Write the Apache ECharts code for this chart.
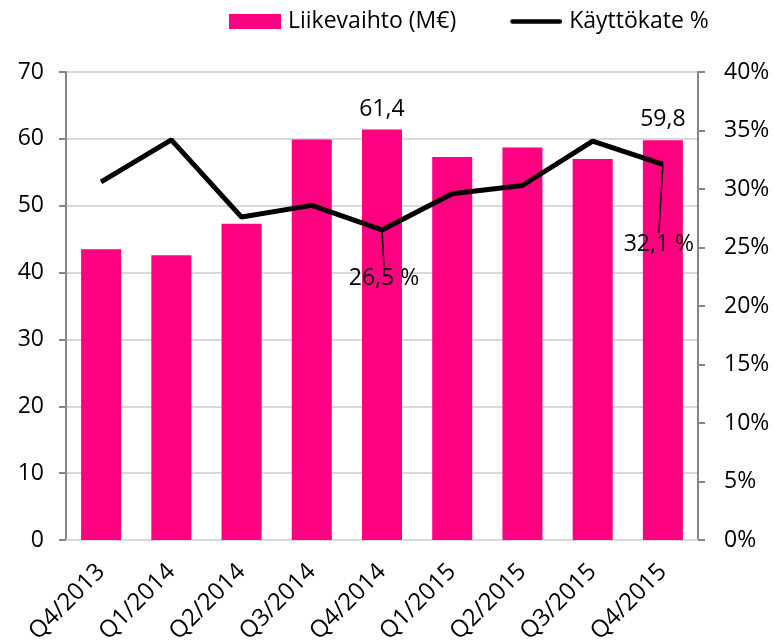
<!DOCTYPE html>
<html>
<head>
<meta charset="utf-8">
<script src="https://cdn.jsdelivr.net/npm/echarts@6/dist/echarts.min.js"></script>
<style>
  html, body { margin: 0; padding: 0; background: #fff; }
  #chart { width: 775px; height: 643px; }
</style>
</head>
<body>
<div id="chart"></div>
<script>
// kvartaalit ja arvot
var categories = ['Q4/2013', 'Q1/2014', 'Q2/2014', 'Q3/2014', 'Q4/2014', 'Q1/2015', 'Q2/2015', 'Q3/2015', 'Q4/2015'];
var liikevaihto = [43.5, 42.6, 47.3, 59.9, 61.4, 57.3, 58.7, 57.0, 59.8];
var kayttokate = [0.306, 0.342, 0.276, 0.286, 0.265, 0.296, 0.303, 0.341, 0.321];
var leftTicks = [0, 70, 10];
var rightTicks = [0, 0.4, 0.05];

var FONT = '"Open Sans", Lato, sans-serif';

var chart = echarts.init(document.getElementById('chart'));

// datalabelit vain osalle pylväistä / pisteistä
var barData = liikevaihto.map(function (v, i) {
  if (i === 4 || i === 8) {
    return { value: v, label: { show: true } };
  }
  return v;
});
var lineData = kayttokate.map(function (v, i) {
  if (i === 4 || i === 8) {
    return { value: v, label: { show: true }, labelLine: { show: true } };
  }
  return v;
});

var option = {
  animation: false,
  textStyle: { fontFamily: FONT },
  legend: {
    top: 5,
    left: 224,
    itemWidth: 52,
    itemHeight: 15,
    itemGap: 54,
    textStyle: { fontSize: 23, color: '#000', fontFamily: FONT, padding: [0, 0, 0, 2] },
    data: [
      { name: 'Liikevaihto (M€)', icon: 'rect' },
      { name: 'Käyttökate %', icon: 'path://M2.5,0 L52.5,0 A2.5,2.5 0 0 1 52.5,5 L2.5,5 A2.5,2.5 0 0 1 2.5,0 Z' }
    ]
  },
  grid: { left: 66, right: 77, top: 72, bottom: 103, containLabel: false, outerBoundsMode: 'none' },
  xAxis: {
    type: 'category',
    data: categories,
    axisLine: { lineStyle: { color: '#D9D9D9', width: 2 } },
    axisTick: { show: false },
    axisLabel: { rotate: 45, fontSize: 24, color: '#000', margin: 28, fontFamily: FONT }
  },
  yAxis: [
    {
      type: 'value',
      min: leftTicks[0], max: leftTicks[1], interval: leftTicks[2],
      axisLine: { show: true, lineStyle: { color: '#868686', width: 2 } },
      axisTick: { show: true, length: 7, lineStyle: { color: '#868686', width: 2 } },
      splitLine: { lineStyle: { color: '#D9D9D9', width: 2 } },
      axisLabel: { fontSize: 23, color: '#000', margin: 22, fontFamily: FONT }
    },
    {
      type: 'value',
      min: rightTicks[0], max: rightTicks[1], interval: rightTicks[2],
      axisLine: { show: true, lineStyle: { color: '#868686', width: 2 } },
      axisTick: { show: true, length: 7, lineStyle: { color: '#868686', width: 2 } },
      splitLine: { show: false },
      axisLabel: {
        fontSize: 23, color: '#000', margin: 26, fontFamily: FONT,
        formatter: function (v) { return Math.round(v * 100) + '%'; }
      }
    }
  ],
  series: [
    {
      name: 'Liikevaihto (M€)',
      type: 'bar',
      data: barData,
      barWidth: '57%',
      itemStyle: { color: '#FF0080' },
      label: {
        show: false, position: 'top', distance: 9, fontSize: 23, color: '#000', fontFamily: FONT,
        formatter: function (p) { return String(p.value).replace('.', ','); }
      }
    },
    {
      name: 'Käyttökate %',
      type: 'line',
      yAxisIndex: 1,
      data: lineData,
      symbol: 'circle',
      symbolSize: 1,
      showSymbol: true,
      lineStyle: { color: '#000', width: 5 },
      itemStyle: { color: '#000' },
      label: {
        show: false, position: 'bottom', fontSize: 23, color: '#000', fontFamily: FONT,
        formatter: function (p) { return (p.value * 100).toFixed(1).replace('.', ',') + ' %'; }
      },
      labelLayout: function (params) {
        if (params.dataIndex === 4) {
          return { dy: 32, dx: 2 };
        }
        if (params.dataIndex === 8) {
          return { dy: 63, dx: -4 };
        }
        return {};
      },
      labelLine: { lineStyle: { color: '#000', width: 1.5 } }
    }
  ]
};

chart.setOption(option);
</script>
</body>
</html>
